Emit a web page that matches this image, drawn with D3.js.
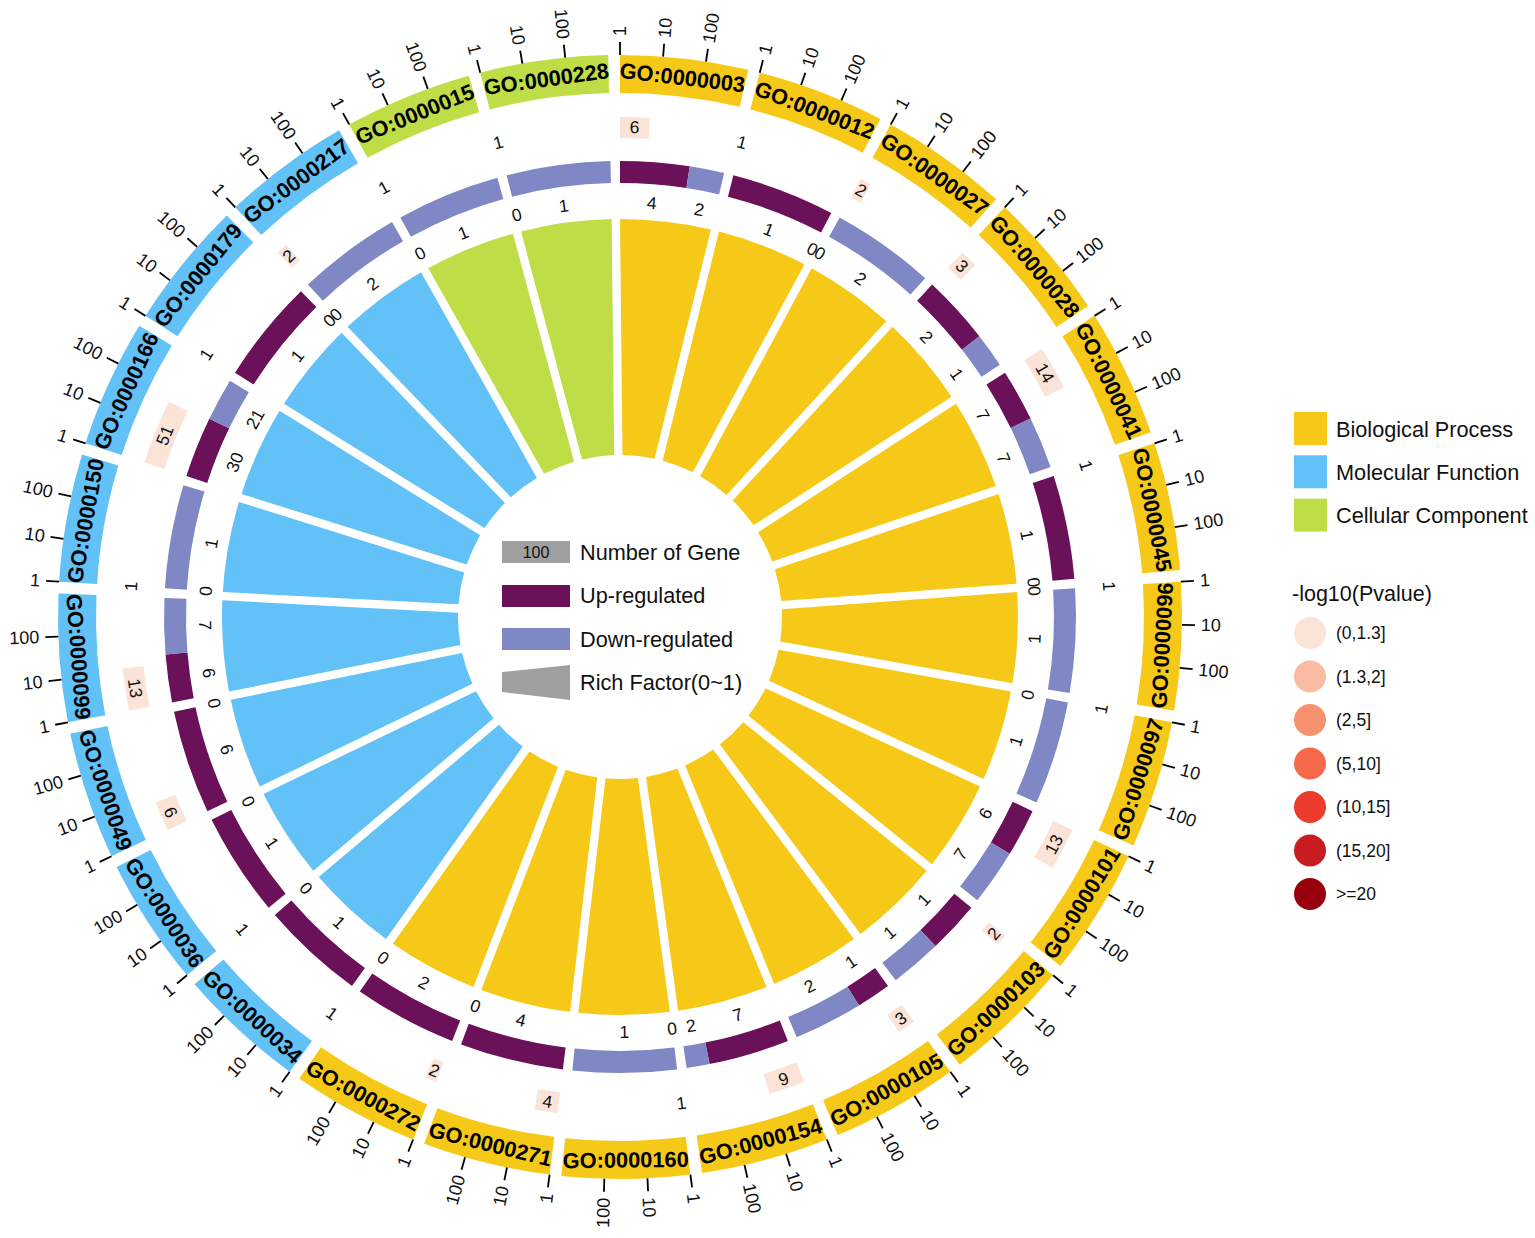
<!DOCTYPE html>
<html>
<head>
<meta charset="utf-8">
<script src="https://cdn.jsdelivr.net/npm/d3@7"></script>
<style>
  body { margin: 0; background: #ffffff; }
  svg { font-family: "Liberation Sans", Arial, sans-serif; }
</style>
</head>
<body>
<div id="chart"></div>
<script>
// GO terms, clockwise from 12 o'clock
const goIds = ["GO:0000003","GO:0000012","GO:0000027","GO:0000028","GO:0000041","GO:0000045",
               "GO:0000096","GO:0000097","GO:0000101","GO:0000103","GO:0000105","GO:0000154",
               "GO:0000160","GO:0000271","GO:0000272","GO:0000034","GO:0000036","GO:0000049",
               "GO:0000099","GO:0000150","GO:0000166","GO:0000179","GO:0000217","GO:0000015",
               "GO:0000228"];
const goCats = ["BP","BP","BP","BP","BP","BP","BP","BP","BP","BP","BP","BP","BP","BP","BP",
                "MF","MF","MF","MF","MF","MF","MF","MF","CC","CC"];
const upGenes   = [4, 1, 0, 2, 7, 1, 0, 0, 6, 1, 1, 7, 0, 4, 2, 1, 1, 6, 6, 0, 30, 1, 0, 0, 0];
const downGenes = [2, 0, 2, 1, 7, 0, 1, 1, 7, 1, 2, 2, 1, 0, 0, 0, 0, 0, 7, 1, 21, 0, 2, 1, 1];
const richFactor = [1, 1, 1, 1, 1, 1, 1, 1, 1, 1, 1, 1, 1, 1, 1, 1, 1, 1, 1, 1, 1, 1, 1, 1, 1];
const negLogP = [0.9, 0.4, 0.6, 0.7, 1.1, 0.4, 0.4, 0.4, 1.0, 0.6, 0.7, 1.0, 0.4, 0.8, 0.6,
                 0.4, 0.4, 0.9, 1.0, 0.4, 1.2, 0.4, 0.6, 0.4, 0.4];

const catKeys = ["BP", "MF", "CC"];
const catNames = ["Biological Process", "Molecular Function", "Cellular Component"];
const catColors = ["#f6c918", "#62c1f7", "#bfdd46"];

const pBreaks = [1.3, 2, 5, 10, 15, 20];
const pLabels = ["(0,1.3]", "(1.3,2]", "(2,5]", "(5,10]", "(10,15]", "(15,20]", ">=20"];
const pColors = ["#fbe3d8", "#f9bba1", "#f8916f", "#f6694a", "#eb3b2c", "#c91c20", "#99000d"];

const geneTicks = [1, 10, 100];
const geneMax = 1000;

const upColor = "#6a1159";
const downColor = "#7f88c4";

// layout
const width = 1535, height = 1238;
const cx = 620, cy = 617;

const svg = d3.select("#chart")
  .append("svg")
  .attr("width", width)
  .attr("height", height);

const g = svg.append("g").attr("transform", `translate(${cx},${cy})`);

const gap = 1.2 / 14.4;
const x = d3.scaleBand()
  .domain(goIds)
  .range([0, 2 * Math.PI])
  .paddingInner(gap)
  .paddingOuter(gap / 2)
  .align(0);
const bw = x.bandwidth();
const gapRad = x.step() - bw;

const geneScale = d3.scaleLog().domain([1, geneMax]).range([0, bw]);
const catColor = d3.scaleOrdinal().domain(catKeys).range(catColors);
const pColor = d3.scaleThreshold().domain(pBreaks).range(pColors);
const richScale = d3.scaleLinear().domain([0, 1]).range([162, 398]);

const toDeg = a => a * 180 / Math.PI;

// text along the circle, flipped on the lower half so it stays readable
function tangent(a, r) {
  const d = toDeg(a);
  const flip = d > 90 && d < 270;
  return `rotate(${d}) translate(0,${-r})` + (flip ? " rotate(180)" : "");
}
// text pointing outward, flipped on the left half
function radial(a, r) {
  const d = toDeg(a);
  return `rotate(${d}) translate(0,${-r}) rotate(${d > 180 ? 90 : -90})`;
}

const terms = goIds.map((id, i) => ({
  id: id, cat: goCats[i], up: upGenes[i], down: downGenes[i],
  rich: richFactor[i], p: negLogP[i], start: x(id)
}));

// outer ring: GO terms
const outerArc = d3.arc().innerRadius(524).outerRadius(562);
g.selectAll(".term")
  .data(terms)
  .join("path")
  .attr("class", "term")
  .attr("d", d => outerArc({ startAngle: d.start, endAngle: d.start + bw }))
  .attr("fill", d => catColor(d.cat));

g.selectAll(".termLabel")
  .data(terms)
  .join("text")
  .attr("class", "termLabel")
  .attr("transform", d => tangent(d.start + bw / 2, 543))
  .attr("text-anchor", "middle")
  .attr("dominant-baseline", "central")
  .attr("font-size", 21.8)
  .attr("font-weight", "bold")
  .attr("fill", "#000")
  .text(d => d.id);

// log ticks on every term
const tickData = [];
terms.forEach(d => geneTicks.forEach(t => tickData.push({ a: d.start + geneScale(t), v: t })));

g.selectAll(".tick")
  .data(tickData)
  .join("line")
  .attr("class", "tick")
  .attr("x1", d => 562 * Math.sin(d.a))
  .attr("y1", d => -562 * Math.cos(d.a))
  .attr("x2", d => 575 * Math.sin(d.a))
  .attr("y2", d => -575 * Math.cos(d.a))
  .attr("stroke", "#000")
  .attr("stroke-width", 1.8);

g.selectAll(".tickLabel")
  .data(tickData)
  .join("text")
  .attr("class", "tickLabel")
  .attr("transform", d => radial(d.a, 581))
  .attr("text-anchor", d => toDeg(d.a) > 180 ? "end" : "start")
  .attr("dominant-baseline", "central")
  .attr("font-size", 18)
  .attr("fill", "#111")
  .text(d => d.v);

// number of genes, coloured by -log10(Pvalue)
const countArc = d3.arc().innerRadius(479).outerRadius(500);
g.selectAll(".count")
  .data(terms)
  .join("path")
  .attr("class", "count")
  .attr("d", d => countArc({ startAngle: d.start, endAngle: d.start + geneScale(d.up + d.down) }))
  .attr("fill", d => pColor(d.p));

g.selectAll(".countLabel")
  .data(terms)
  .join("text")
  .attr("class", "countLabel")
  .attr("transform", d => tangent(d.start + geneScale(d.up + d.down) / 2, 490))
  .attr("text-anchor", "middle")
  .attr("dominant-baseline", "central")
  .attr("font-size", 17.5)
  .attr("fill", "#111")
  .text(d => d.up + d.down);

// up / down regulated ring
const regArc = d3.arc().innerRadius(434).outerRadius(456);
const regData = [];
terms.forEach(d => {
  const split = d.start + bw * d.up / (d.up + d.down);
  regData.push({ s: d.start, e: split, v: d.up, c: upColor });
  regData.push({ s: split, e: d.start + bw, v: d.down, c: downColor });
});

g.selectAll(".reg")
  .data(regData)
  .join("path")
  .attr("class", "reg")
  .attr("d", d => regArc({ startAngle: d.s, endAngle: d.e }))
  .attr("fill", d => d.c);

g.selectAll(".regLabel")
  .data(regData)
  .join("text")
  .attr("class", "regLabel")
  .attr("transform", d => tangent((d.s + d.e) / 2, 415))
  .attr("text-anchor", "middle")
  .attr("dominant-baseline", "central")
  .attr("font-size", 17.5)
  .attr("fill", "#111")
  .text(d => d.v);

// rich factor bars
const richArc = d3.arc()
  .innerRadius(richScale(0))
  .padAngle(gapRad)
  .padRadius(richScale(1));
g.selectAll(".rich")
  .data(terms)
  .join("path")
  .attr("class", "rich")
  .attr("d", d => richArc({
    startAngle: d.start - gapRad / 2,
    endAngle: d.start + bw + gapRad / 2,
    outerRadius: richScale(d.rich)
  }))
  .attr("fill", d => catColor(d.cat));

// legend in the middle
const mid = svg.append("g");
mid.append("rect").attr("x", 502).attr("y", 541).attr("width", 68).attr("height", 22).attr("fill", "#a0a0a0");
mid.append("text").attr("x", 536).attr("y", 552).attr("text-anchor", "middle")
  .attr("dominant-baseline", "central").attr("font-size", 16).attr("fill", "#111").text("100");
mid.append("rect").attr("x", 502).attr("y", 585).attr("width", 68).attr("height", 22).attr("fill", upColor);
mid.append("rect").attr("x", 502).attr("y", 628).attr("width", 68).attr("height", 22).attr("fill", downColor);
mid.append("path").attr("d", "M502,672L570,665L570,700L502,692Z").attr("fill", "#a0a0a0");

const midLabels = ["Number of Gene", "Up-regulated", "Down-regulated", "Rich Factor(0~1)"];
mid.selectAll(".midLabel")
  .data(midLabels)
  .join("text")
  .attr("class", "midLabel")
  .attr("x", 580)
  .attr("y", (d, i) => 552 + i * 43.5)
  .attr("dominant-baseline", "central")
  .attr("font-size", 21.7)
  .attr("fill", "#111")
  .text(d => d);

// legend on the right
const leg = svg.append("g");
leg.selectAll(".catBox")
  .data(catNames)
  .join("rect")
  .attr("class", "catBox")
  .attr("x", 1294)
  .attr("y", (d, i) => 412 + i * 43.3)
  .attr("width", 33)
  .attr("height", 33)
  .attr("fill", (d, i) => catColors[i]);
leg.selectAll(".catLabel")
  .data(catNames)
  .join("text")
  .attr("class", "catLabel")
  .attr("x", 1336)
  .attr("y", (d, i) => 429 + i * 43.3)
  .attr("dominant-baseline", "central")
  .attr("font-size", 21.7)
  .attr("fill", "#111")
  .text(d => d);

leg.append("text")
  .attr("x", 1292)
  .attr("y", 594)
  .attr("dominant-baseline", "central")
  .attr("font-size", 21.5)
  .attr("fill", "#111")
  .text("-log10(Pvalue)");

leg.selectAll(".pDot")
  .data(pLabels)
  .join("circle")
  .attr("class", "pDot")
  .attr("cx", 1310)
  .attr("cy", (d, i) => 633 + i * 43.5)
  .attr("r", 16)
  .attr("fill", (d, i) => pColors[i]);
leg.selectAll(".pLabel")
  .data(pLabels)
  .join("text")
  .attr("class", "pLabel")
  .attr("x", 1336)
  .attr("y", (d, i) => 633 + i * 43.5)
  .attr("dominant-baseline", "central")
  .attr("font-size", 17.5)
  .attr("fill", "#111")
  .text(d => d);
</script>
</body>
</html>
